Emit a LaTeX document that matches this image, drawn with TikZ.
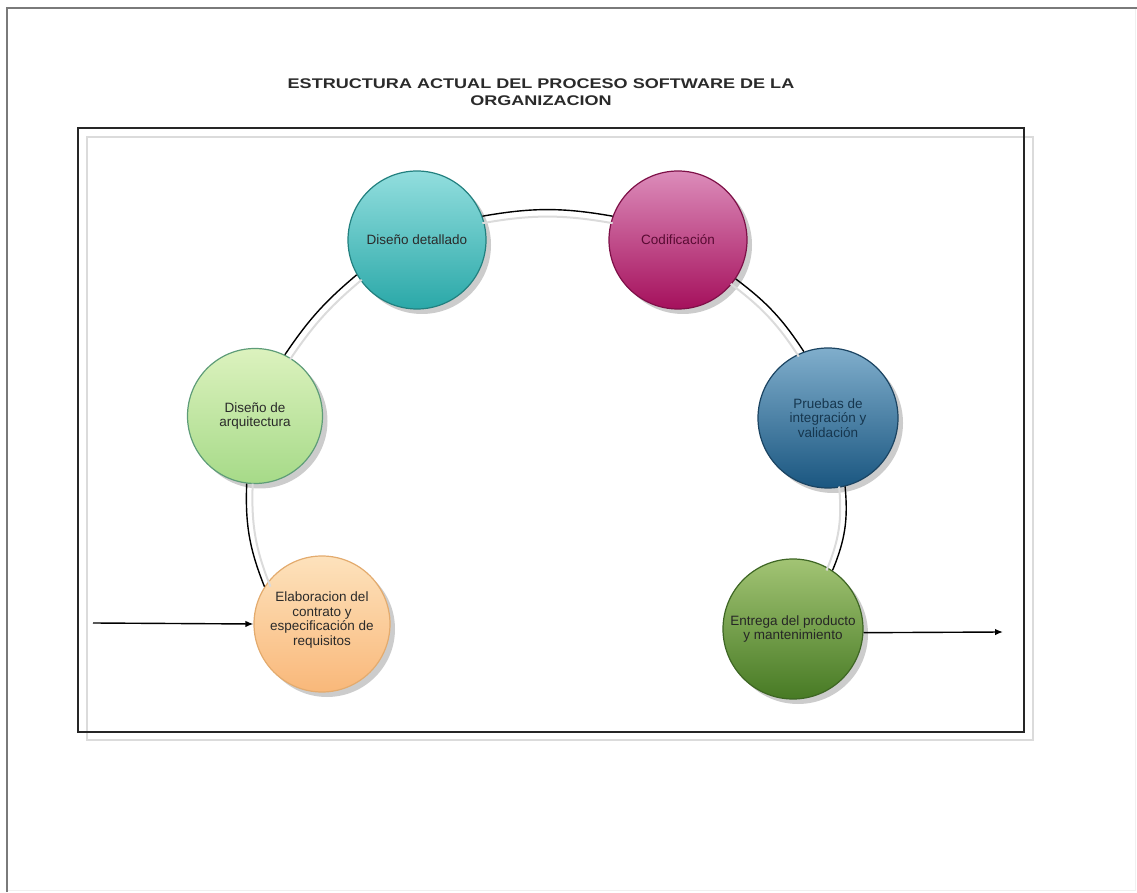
\documentclass[tikz,border=0pt]{standalone}
\usepackage{fontspec}
\setmainfont{Liberation Sans}
\usetikzlibrary{arrows.meta,shadows}

\definecolor{frameline}{HTML}{7A7A7A}
\definecolor{textdark}{HTML}{2A2A2A}
% stage palettes: top, bottom, border
\definecolor{peachT}{HTML}{FDE2BC}\definecolor{peachB}{HTML}{F9B87A}\definecolor{peachD}{HTML}{E3AB6E}
\definecolor{limeT}{HTML}{DCF2BE}\definecolor{limeB}{HTML}{A6DA88}\definecolor{limeD}{HTML}{5E9C78}
\definecolor{tealT}{HTML}{92DEDE}\definecolor{tealB}{HTML}{2AA8A8}\definecolor{tealD}{HTML}{22807F}
\definecolor{magT}{HTML}{DC8CBA}\definecolor{magB}{HTML}{A5105C}\definecolor{magD}{HTML}{7E1048}
\definecolor{blueT}{HTML}{80AECC}\definecolor{blueB}{HTML}{1A5680}\definecolor{blueD}{HTML}{1B4462}
\definecolor{greenT}{HTML}{A2C474}\definecolor{greenB}{HTML}{477A24}\definecolor{greenD}{HTML}{3E6624}

\newcommand{\stagefont}{\fontsize{13.5pt}{14.5pt}\selectfont}
\newcommand{\titlefont}{\fontsize{14pt}{17pt}\selectfont\bfseries}

\begin{document}
\begin{tikzpicture}[x=1pt,y=1pt,
  stage/.style={circle, minimum size=138pt, inner sep=0pt, line width=1.2pt,
    drop shadow={shadow xshift=5pt, shadow yshift=-5pt, fill=black, opacity=.2}},
  stagetext/.style={align=center, font=\stagefont, text=textdark},
  conn/.style={line width=1.4pt, black},
  connshade/.style={line width=2pt, black!14},
  flow/.style={line width=1.4pt, black, -{Latex[length=8pt,width=6.5pt]}}
]
\useasboundingbox (0,0) rectangle (1137,892);

% page frame
\draw[black!6, line width=1pt] (7,2) -- (1135,2) -- (1135,884);
\draw[frameline, line width=1.6pt] (7,0) -- (7,884) -- (1137,884);

% title
\node[align=center, font=\titlefont, text=textdark] (title) at (541,800)
  {\scalebox{1.29}[1]{ESTRUCTURA ACTUAL DEL PROCESO SOFTWARE DE LA}\\
   \scalebox{1.29}[1]{ORGANIZACION}};

% diagram frame with its shadow
\draw[black!14, line width=2pt] (87,152) rectangle (1033,755);
\draw[black!85, line width=1.8pt] (78,160) rectangle (1024,764);

% process stages
\node[stage, minimum size=136pt, draw=peachD, top color=peachT, bottom color=peachB,
  label={[stagetext, yshift=4pt]center:Elaboracion del\\contrato y\\especificación de\\requisitos}] (elab) at (322,268) {};
\node[stage, minimum size=135pt, draw=limeD, top color=limeT, bottom color=limeB,
  label={[stagetext]center:Diseño de\\arquitectura}] (arq) at (255,476) {};
\node[stage, draw=tealD, top color=tealT, bottom color=tealB,
  label={[stagetext]center:Diseño detallado}] (dd) at (417,652) {};
\node[stage, draw=magD, top color=magT, bottom color=magB,
  label={[stagetext, text=magD!70!black]center:Codificación}] (cod) at (678,652) {};
\node[stage, minimum size=140pt, draw=blueD, top color=blueT, bottom color=blueB,
  label={[stagetext, text=blueD!80!black]center:Pruebas de\\integración y\\validación}] (pru) at (828,474) {};
\node[stage, minimum size=140pt, draw=greenD, top color=greenT, bottom color=greenB,
  label={[stagetext, text=black!85]center:Entrega del producto\\y mantenimiento}] (ent) at (793,263) {};

% connector shadows
\draw[connshade, transform canvas={xshift=6pt}] (elab.147) to[bend left=12] (arq.263);
\draw[connshade, transform canvas={xshift=5pt,yshift=-5pt}] (arq.64) to[bend left=8] (dd.210);
\draw[connshade, transform canvas={yshift=-7pt}] (dd.20) to[bend left=10] (cod.160);
\draw[connshade, transform canvas={xshift=-5pt,yshift=-5pt}] (cod.-34) to[bend left=10] (pru.110);
\draw[connshade, transform canvas={xshift=-6pt}] (pru.-76) to[bend left=14] (ent.56);

% connectors
\draw[conn] (elab.147) to[bend left=12] (arq.263);
\draw[conn] (arq.64) to[bend left=8] (dd.210);
\draw[conn] (dd.20) to[bend left=10] (cod.160);
\draw[conn] (cod.-34) to[bend left=10] (pru.110);
\draw[conn] (pru.-76) to[bend left=14] (ent.56);

% entry and exit flows
\coordinate (in) at (93,269);
\coordinate (out) at (1003,260);
\draw[flow] (in) -- (elab.west);
\draw[flow] (ent.-3) -- (out);
\end{tikzpicture}
\end{document}
